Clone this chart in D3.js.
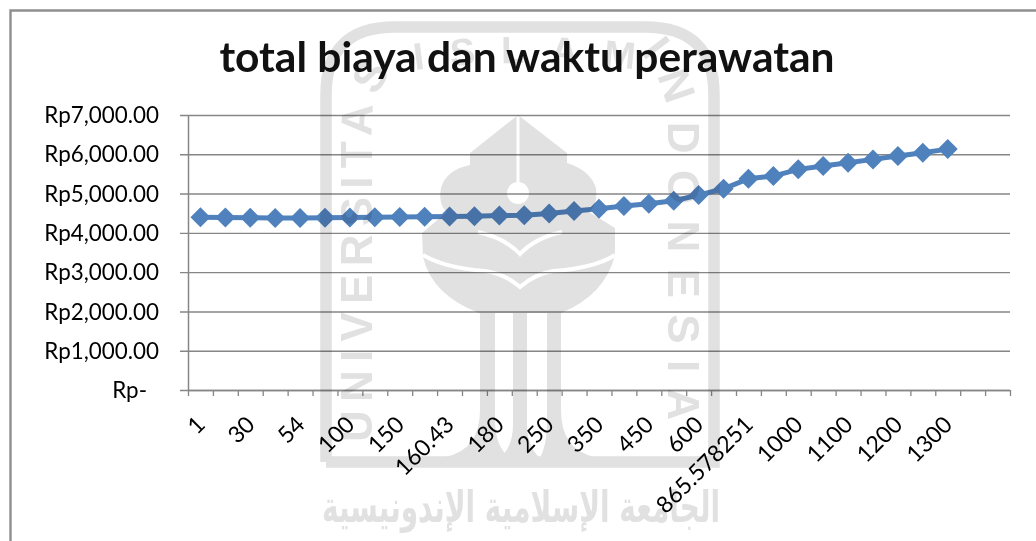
<!DOCTYPE html>
<html><head><meta charset="utf-8">
<script src="https://cdn.jsdelivr.net/npm/d3@7/dist/d3.min.js"></script>
<style>
html,body{margin:0;padding:0;background:#fff;overflow:hidden}
svg{display:block;background:#fff}
text{font-family:Lato,"Open Sans",sans-serif;fill:#000}
</style></head><body>
<svg id="c" width="1036" height="541"></svg>
<script>
const title = "total biaya dan waktu perawatan";
const xLabels = ["1","30","54","100","150","160.43","180","250","350","450","600","865.578251","1000","1100","1200","1300"];
const yTicks = [0,1000,2000,3000,4000,5000,6000,7000];
const yLabels = ["Rp-","Rp1,000.00","Rp2,000.00","Rp3,000.00","Rp4,000.00","Rp5,000.00","Rp6,000.00","Rp7,000.00"];
const totals = [4395,4390,4385,4380,4380,4385,4390,4400,4405,4410,4415,4425,4440,4450,4495,4555,4613,4682,4740,4817,4962,5122,5377,5445,5616,5700,5784,5870,5954,6038,6132];
const slotCount = 33;

const svg = d3.select("#c");
const plotL = 188, plotR = 1010, plotT = 115, plotB = 390;
const xEdge = d3.scaleLinear().domain([0, slotCount]).range([plotL, plotR]);
const y = d3.scaleLinear().domain([0, 7000]).range([plotB, plotT]);
const grey = "#868686";

// frame
svg.append("path").attr("d","M10.5,541V10.5H1036").attr("fill","none").attr("stroke","#8f8f8f").attr("stroke-width",2.4);

// title
svg.append("text").attr("x",527).attr("y",72).attr("text-anchor","middle")
  .attr("font-size",42.5).attr("font-weight",700).style("fill","#111").text(title);

// y axis + gridlines
const yAxis = d3.axisLeft(y).tickValues(yTicks).tickSize(8).tickFormat(d => yLabels[yTicks.indexOf(d)]);
const gy = svg.append("g").attr("transform",`translate(${plotL},0)`).call(yAxis);
gy.select(".domain").attr("stroke",grey).attr("stroke-width",1.5).attr("d",`M0.5,${plotT}V${plotB}`);
gy.selectAll(".tick line").attr("stroke",grey).attr("stroke-width",1.4)
  .attr("x1",-8).attr("x2",plotR-plotL);
gy.selectAll(".tick text").attr("x",d => d===0 ? -41 : -29).attr("font-size",22.4)
  .attr("dy","0.34em").style("font-family","Lato,sans-serif");

// x axis
const xAxis = d3.axisBottom(xEdge).tickValues(d3.range(slotCount+1)).tickSize(6).tickFormat("");
const gx = svg.append("g").attr("transform",`translate(0,${plotB})`).call(xAxis);
gx.select(".domain").attr("stroke",grey).attr("stroke-width",1.5).attr("d",`M${plotL},0.5H${plotR}`);
gx.selectAll(".tick line").attr("stroke",grey).attr("stroke-width",1.3);

svg.append("g").selectAll("text").data(xLabels).join("text")
  .attr("text-anchor","end").attr("font-size",23)
  .attr("transform",(d,i)=>`translate(${xEdge(i*2+0.5)+6},${plotB+36}) rotate(-45)`)
  .text(d=>d);

// series
const px = i => xEdge(i+0.5);
const blue = "#4f81bd";
svg.append("path").datum(totals)
  .attr("d", d3.line().x((d,i)=>px(i)).y(d=>y(d)))
  .attr("fill","none").attr("stroke",blue).attr("stroke-width",5);
svg.append("g").selectAll("path").data(totals).join("path")
  .attr("d", d3.symbol(d3.symbolSquare, 200))
  .attr("transform",(d,i)=>`translate(${px(i)},${y(d)}) rotate(45)`)
  .attr("fill",blue);

// watermark (multiplied over the chart)
const wmColor = "#e1e1e1";
const wm = svg.append("g").style("mix-blend-mode","multiply").attr("id","wm");
const defs = svg.append("defs");
defs.append("path").attr("id","arcL").attr("d","M372,442V125Q372,85 405,60");
defs.append("path").attr("id","arcR").attr("d","M640,52Q668,85 668,125V442");
defs.append("path").attr("id","arcT").attr("d","M415,70Q520,56 640,70");
wm.append("path").attr("fill","none").attr("stroke",wmColor).attr("stroke-width",11.5)
  .attr("d","M326,462V95Q326,27 395,27H645Q714,27 714,95V462H326");
const shape = wm.append("g");
shape.append("path").attr("fill",wmColor).attr("d",
 "M518,115L567,153V163Q590,170 596,188Q598,205 589,212L615,228V255Q605,295 561,313H479Q432,295 423,257L422,233L447,212Q438,205 441,188Q446,170 470,165V153Z");
// legs
shape.append("path").attr("fill",wmColor).attr("d","M480,310H495V420Q495,460 530,467H326V457H445Q480,450 480,410Z");
shape.append("rect").attr("fill",wmColor).attr("x",513).attr("y",310).attr("width",14).attr("height",125);
shape.append("path").attr("fill",wmColor).attr("d","M513,425Q513,450 495,462H545Q527,450 527,425Z");
shape.append("path").attr("fill",wmColor).attr("d","M547,310H561V410Q561,450 595,457H714V467H530Q547,460 547,420Z");
// white accents
wm.append("path").attr("fill","none").attr("stroke","#fff").attr("stroke-width",3).attr("d","M518,116V190");
wm.append("circle").attr("cx",518).attr("cy",193).attr("r",11).attr("fill","#fff");
wm.append("path").attr("fill","none").attr("stroke","#fff").attr("stroke-width",4)
  .attr("d","M478,232Q505,238 520,254Q535,238 562,232");
wm.append("path").attr("fill","none").attr("stroke","#fff").attr("stroke-width",4)
  .attr("d","M423,255Q445,268 485,271Q505,274 520,287Q535,274 553,271Q595,268 615,255");
// watermark letters
const wmText = (id, str, len, size) => wm.append("text").attr("font-size",size).attr("font-weight",700).style("fill",wmColor)
  .style("font-family","'Liberation Sans',sans-serif")
  .append("textPath").attr("href","#"+id).attr("textLength",len).attr("lengthAdjust","spacing").text(str);
wmText("arcL","UNIVERSITAS",375,44);
wmText("arcR","INDONESIA",375,44);
wmText("arcT","ISLAM",220,38);
wm.append("text").attr("x",322).attr("y",522).attr("font-size",44).attr("font-weight",700)
  .style("fill",wmColor)
  .style("font-family","'DejaVu Sans',sans-serif")
  .attr("textLength",398).attr("lengthAdjust","spacingAndGlyphs")
  .text("الجامعة الإسلامية الإندونيسية");
</script></body></html>
